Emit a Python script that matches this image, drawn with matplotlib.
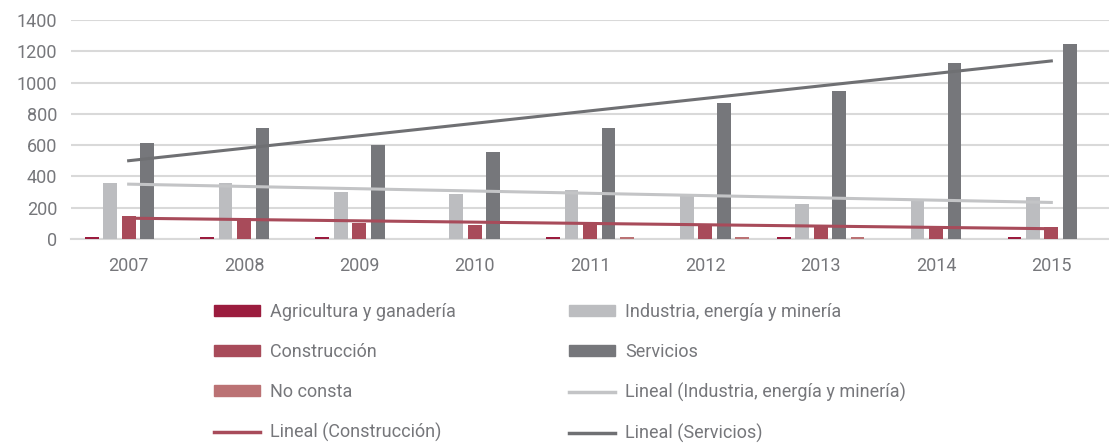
import numpy as np
import matplotlib.pyplot as plt
from matplotlib.patches import Patch
from matplotlib.lines import Line2D

plt.rcParams['font.family'] = ['Roboto', 'DejaVu Sans']

years = ['2007', '2008', '2009', '2010', '2011', '2012', '2013', '2014', '2015']
agricultura = [15, 15, 15, 0, 15, 0, 15, 0, 15]
industria = [360, 360, 300, 285, 313, 274, 226, 243, 268]
construccion = [149, 132, 104, 89, 94, 94, 79, 79, 74]
servicios = [615, 708, 600, 555, 708, 870, 945, 1125, 1247]
no_consta = [0, 0, 0, 0, 15, 15, 15, 0, 0]

c_agr = '#9b1c3e'
c_ind = '#bcbdc0'
c_con = '#a84b5a'
c_ser = '#76777b'
c_nc = '#bb7274'
c_txt = '#76777b'

fig = plt.figure(figsize=(11.09, 4.43), dpi=100)
ax = fig.add_axes([0.064, 0.4605, 0.936, 0.4944])

x = np.arange(len(years))
w = 0.12
step = 0.16
series = [(agricultura, c_agr), (industria, c_ind), (construccion, c_con),
          (servicios, c_ser), (no_consta, c_nc)]
for i, (vals, col) in enumerate(series):
    ax.bar(x + (i - 2) * step, vals, w, color=col, zorder=2.6)

# linear trendlines (Excel style, first to last category)
for vals, col in [(industria, '#c3c4c6'), (construccion, '#a84b5a'), (servicios, '#6f7073')]:
    k, b = np.polyfit(x + 1, vals, 1)
    ax.plot([x[0], x[-1]], [k * 1 + b, k * len(x) + b], color=col, lw=2.2, zorder=3)

ax.set_xlim(-0.5, len(years) - 0.5)
ax.set_ylim(0, 1400)
ax.set_yticks(range(0, 1401, 200))
ax.set_xticks(x)
ax.set_xticklabels(years)
ax.grid(axis='y', color='#d9d9d9', lw=1.5, zorder=0)
for s in ['top', 'right', 'left']:
    ax.spines[s].set_visible(False)
ax.spines['bottom'].set_color('#d9d9d9')
ax.spines['bottom'].set_linewidth(1.5)
ax.tick_params(axis='both', length=0, labelsize=13, labelcolor=c_txt)
ax.tick_params(axis='x', pad=13)
ax.tick_params(axis='y', pad=10)

col1 = [Patch(color=c_agr), Patch(color=c_con), Patch(color=c_nc),
        Line2D([], [], color='#a84b5a', lw=2.5)]
lab1 = ['Agricultura y ganadería', 'Construcción', 'No consta', 'Lineal (Construcción)']
col2 = [Patch(color=c_ind), Patch(color=c_ser),
        Line2D([], [], color='#c3c4c6', lw=2.5), Line2D([], [], color='#6f7073', lw=2.5)]
lab2 = ['Industria, energía y minería', 'Servicios', 'Lineal (Industria, energía y minería)',
        'Lineal (Servicios)']

for hs, ls, xpx in [(col1, lab1, 214), (col2, lab2, 569)]:
    leg = fig.legend(hs, ls, loc='upper left', bbox_to_anchor=(xpx / 1109, 1 - 303 / 443),
                     frameon=False, fontsize=13, labelcolor=c_txt, handlelength=2.55,
                     handleheight=0.55, handletextpad=0.55, labelspacing=1.22,
                     borderpad=0, borderaxespad=0)

fig.savefig('out.png', dpi=100)
